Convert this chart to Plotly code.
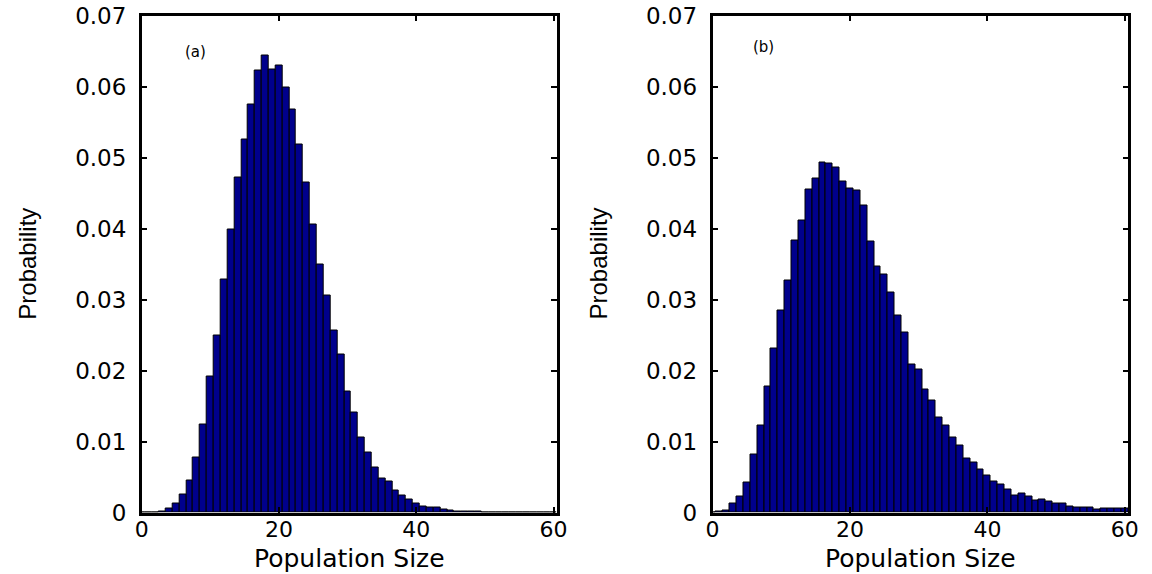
import plotly.graph_objects as go

# ---- data ----
population = list(range(0, 61))

prob_a = [0, 0, 0, 0.0001, 0.0005, 0.0012, 0.0026, 0.0045, 0.0077, 0.0124,
          0.0192, 0.0249, 0.0328, 0.0399, 0.0472, 0.0525, 0.0575, 0.0622, 0.0643, 0.0624,
          0.0630, 0.0599, 0.0567, 0.0518, 0.0465, 0.0405, 0.0349, 0.0306, 0.0256, 0.0222,
          0.0171, 0.0141, 0.0105, 0.0084, 0.0064, 0.0048, 0.0043, 0.0031, 0.0024, 0.0018,
          0.0013, 0.00085, 0.00066, 0.00066, 0.00042, 0.00028, 0.0002, 0.00015, 0.0001, 0.00008,
          0.00005, 0.00003, 0.00002, 0.00002, 0.00001, 0.00001, 0.00001, 0, 0, 0,
          0]

prob_b = [0, 0.0001, 0.0003, 0.0012, 0.0023, 0.0042, 0.0082, 0.0122, 0.0178, 0.0231,
          0.0285, 0.0327, 0.0383, 0.0411, 0.0455, 0.0470, 0.0493, 0.0491, 0.0486, 0.0466,
          0.0457, 0.0453, 0.0432, 0.0381, 0.0346, 0.0335, 0.0310, 0.0277, 0.0254, 0.0208,
          0.0202, 0.0173, 0.0158, 0.0134, 0.0123, 0.0105, 0.0095, 0.0076, 0.0070, 0.0060,
          0.0052, 0.0044, 0.0040, 0.0033, 0.0024, 0.0027, 0.0022, 0.0017, 0.0018, 0.0015,
          0.0012, 0.0013, 0.0009, 0.00075, 0.00065, 0.00065, 0.00042, 0.0005, 0.0006, 0.0006,
          0.0006]

x_tickvals = [0, 20, 40, 60]
x_ticktext = ["0", "20", "40", "60"]
y_tickvals = [0, 0.01, 0.02, 0.03, 0.04, 0.05, 0.06, 0.07]
y_ticktext = ["0", "0.01", "0.02", "0.03", "0.04", "0.05", "0.06", "0.07"]

panel_labels = ["(a)", "(b)"]
x_title = "Population Size"
y_title = "Probability"

# ---- figure ----
BAR_COLOR = "rgb(0,0,140)"
fig = go.Figure()
fig.add_trace(go.Bar(x=population, y=prob_a, width=1, marker=dict(color=BAR_COLOR, line=dict(color="black", width=1)),
                     xaxis="x", yaxis="y", showlegend=False))
fig.add_trace(go.Bar(x=population, y=prob_b, width=1, marker=dict(color=BAR_COLOR, line=dict(color="black", width=1)),
                     xaxis="x2", yaxis="y2", showlegend=False))

W, H = 1152, 574
xdom1 = [141.7 / W, 556.7 / W]
xdom2 = [712.5 / W, 1128.3 / W]
ydom = [(H - 512.5) / H, (H - 15.5) / H]

tick_font = dict(family="DejaVu Sans", size=23, color="black")
xtick_font = dict(family="DejaVu Sans", size=22, color="black")
axis_common = dict(showline=True, linecolor="black", linewidth=2.5, mirror="ticks",
                   ticks="inside", ticklen=6, tickwidth=2, tickcolor="black", automargin=False,
                   showgrid=False, zeroline=False, fixedrange=True)

fig.update_layout(
    width=W, height=H,
    margin=dict(l=0, r=0, t=0, b=0, pad=0),
    paper_bgcolor="white", plot_bgcolor="white",
    bargap=0,
    xaxis=dict(domain=xdom1, range=[0, 60.45], anchor="y", tickvals=x_tickvals, ticktext=x_ticktext,
               ticklabelstandoff=-5, tickfont=xtick_font, **axis_common),
    yaxis=dict(domain=ydom, range=[0, 0.07], anchor="x", tickvals=y_tickvals, ticktext=y_ticktext,
               ticklabelstandoff=8, tickfont=tick_font, **axis_common),
    xaxis2=dict(domain=xdom2, range=[0, 60.5], anchor="y2", tickvals=x_tickvals, ticktext=x_ticktext,
                ticklabelstandoff=-5, tickfont=xtick_font, **axis_common),
    yaxis2=dict(domain=ydom, range=[0, 0.07], anchor="x2", tickvals=y_tickvals, ticktext=y_ticktext,
                ticklabelstandoff=8, tickfont=tick_font, **axis_common),
)

label_font = dict(family="DejaVu Sans", size=25, color="black")
ylab_font = dict(family="Liberation Sans", size=24, color="black")
ann = []
for xd in (xdom1, xdom2):
    xc = (xd[0] + xd[1]) / 2
    ann.append(dict(text=x_title, xref="paper", yref="paper", x=xc, y=0, borderpad=0,
                    xanchor="center", yanchor="bottom", showarrow=False, font=label_font))
    ann.append(dict(text=y_title, xref="paper", yref="paper", x=xd[0] - 115 / W, y=(ydom[0] + ydom[1]) / 2,
                    xanchor="center", yanchor="middle", textangle=-90, showarrow=False, font=ylab_font))

ann.append(dict(text=panel_labels[0], xref="x", yref="y", x=7.9, y=0.0649, showarrow=False,
                font=dict(family="DejaVu Sans", size=15, color="black")))
ann.append(dict(text=panel_labels[1], xref="x2", yref="y2", x=7.4, y=0.0655, showarrow=False,
                font=dict(family="DejaVu Sans", size=15, color="black")))
fig.update_layout(annotations=ann)

fig.write_html("out.html", config={"displayModeBar": False},
               post_script="document.body.style.margin='0';document.body.style.overflow='hidden';")
